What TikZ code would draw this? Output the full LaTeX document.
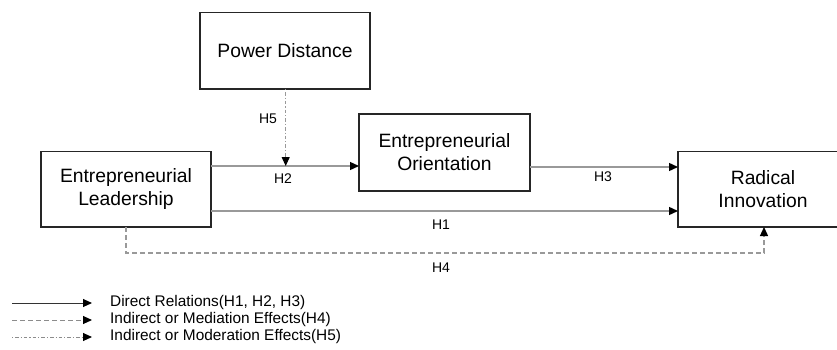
\documentclass[tikz,border=0pt]{standalone}
\usepackage{fontspec}
\setmainfont{Liberation Sans}
\usetikzlibrary{arrows.meta}
\begin{document}
\begin{tikzpicture}[x=1pt,y=-1pt,
  box/.style={draw=black!85,line width=1.1pt,fill=white},
  boxtext/.style={align=center,font=\fontsize{19.3}{23}\selectfont,inner sep=0pt},
  lbl/.style={font=\fontsize{14}{16}\selectfont,inner sep=0pt},
  legtext/.style={font=\fontsize{15.4}{17}\selectfont,inner sep=0pt,anchor=west},
  tip/.style={-{Triangle[length=9pt,width=8pt,color=black]}},
  rel/.style={draw=black!40,line width=1.3pt,tip},
  med/.style={rel,dash pattern=on 5pt off 3pt},
  mod/.style={rel,line width=1pt,dash pattern=on 1.2pt off 2pt on 3.5pt off 2pt}]
\useasboundingbox (0,0) rectangle (837,350);
\clip (0,0) rectangle (837,350);
% boxes
\draw[box] (200,12.5) rectangle (370,89);
\draw[box] (41,151.5) rectangle (211,227);
\draw[box] (359,114) rectangle (530,191);
\draw[box] (678,151.5) rectangle (848,227);
\node[boxtext] (pd) at (285,51) {Power Distance};
\node[boxtext] (el) at (126,189) {Entrepreneurial\\Leadership};
\node[boxtext] (eo) at (444.5,152.5) {Entrepreneurial\\Orientation};
\node[boxtext] (ri) at (763,189) {Radical\\Innovation};
% connector points
\coordinate (elR1) at (211,166);
\coordinate (eoL) at (359,166);
\coordinate (eoR) at (530,167);
\coordinate (riL1) at (678,167);
\coordinate (elR2) at (211,211);
\coordinate (riL2) at (678,211);
\coordinate (pdB) at (285.7,89);
\coordinate (h5end) at (285.7,166);
\coordinate (elB) at (126,227);
\coordinate (riB) at (764,227);
\draw[rel] (elR1) -- (eoL);
\draw[rel] (eoR) -- (riL1);
\draw[rel] (elR2) -- (riL2);
\draw[mod] (pdB) -- (h5end);
\draw[med] (elB) |- (445,253) -| (riB);
% labels
\node[lbl] (h5) at (268,119) {H5};
\node[lbl] (h2) at (283,179) {H2};
\node[lbl] (h3) at (603,177) {H3};
\node[lbl] (h1) at (441,225) {H1};
\node[lbl] (h4) at (441,268) {H4};
% legend
\coordinate (l1a) at (12,303); \coordinate (l1b) at (92,303);
\coordinate (l2a) at (12,320); \coordinate (l2b) at (92,320);
\coordinate (l3a) at (12,337); \coordinate (l3b) at (92,337);
\draw[rel,draw=black!80,line width=1pt] (l1a) -- (l1b);
\draw[med,draw=black!45,line width=1pt] (l2a) -- (l2b);
\draw[mod,draw=black!45] (l3a) -- (l3b);
\node[legtext] (t1) at (110,303) {Direct Relations(H1, H2, H3)};
\node[legtext] (t2) at (110,320) {Indirect or Mediation Effects(H4)};
\node[legtext] (t3) at (110,337) {Indirect or Moderation Effects(H5)};
\end{tikzpicture}
\end{document}
